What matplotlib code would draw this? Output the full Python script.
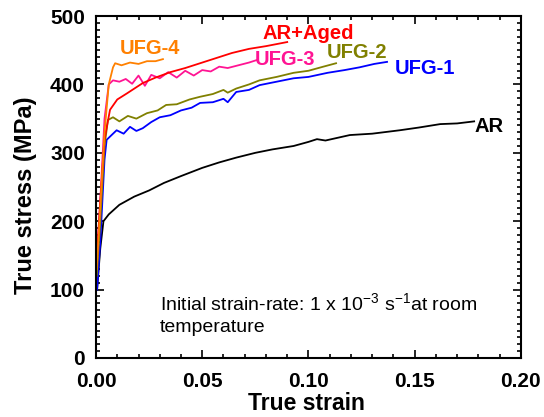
import matplotlib
matplotlib.use("Agg")
import matplotlib.pyplot as plt
from matplotlib.ticker import MultipleLocator

plt.rcParams['font.family'] = ['Liberation Sans', 'DejaVu Sans']
plt.rcParams['mathtext.fontset'] = 'custom'
plt.rcParams['mathtext.rm'] = 'Liberation Sans'
plt.rcParams['mathtext.it'] = 'Liberation Sans:italic'
plt.rcParams['mathtext.bf'] = 'Liberation Sans:bold'

# curves (true strain, true stress in MPa)
ar_strain = [0.0005, 0.002, 0.0035, 0.006, 0.011, 0.018, 0.025, 0.032, 0.040, 0.050,
             0.058, 0.066, 0.075, 0.083, 0.093, 0.100, 0.104, 0.108, 0.1195, 0.130,
             0.143, 0.152, 0.162, 0.170, 0.178]
ar_stress = [100, 160, 200, 210, 224, 236, 245, 256, 266, 278,
             286, 293, 300, 305, 310, 316, 320, 318, 326, 328,
             333, 337, 342, 343, 346]

ufg1_strain = [0.0005, 0.002, 0.004, 0.005, 0.007, 0.0097, 0.013, 0.016, 0.019, 0.022,
               0.026, 0.030, 0.035, 0.040, 0.045, 0.049, 0.055, 0.060, 0.062, 0.066,
               0.072, 0.077, 0.085, 0.093, 0.100, 0.109, 0.117, 0.124, 0.131, 0.137]
ufg1_stress = [100, 170, 290, 319, 325, 333, 328, 338, 332, 336,
               345, 352, 355, 362, 366, 373, 374, 379, 374, 389,
               392, 399, 404, 409, 411, 417, 421, 425, 430, 433]

ufg2_strain = [0.0003, 0.002, 0.004, 0.0056, 0.008, 0.011, 0.015, 0.019, 0.024, 0.029,
               0.033, 0.038, 0.044, 0.049, 0.055, 0.060, 0.062, 0.066, 0.072, 0.077,
               0.085, 0.093, 0.100, 0.107, 0.113]
ufg2_stress = [120, 200, 310, 348, 352, 346, 354, 350, 358, 362,
               370, 371, 378, 382, 386, 392, 388, 394, 400, 406,
               411, 417, 420, 426, 431]

ufg3_strain = [0.0003, 0.002, 0.004, 0.006, 0.008, 0.011, 0.014, 0.017, 0.020, 0.023,
               0.026, 0.030, 0.034, 0.038, 0.042, 0.046, 0.050, 0.054, 0.058, 0.062,
               0.067, 0.072, 0.076]
ufg3_stress = [140, 230, 350, 400, 406, 404, 408, 401, 413, 398,
               414, 409, 418, 410, 420, 413, 421, 419, 426, 424,
               428, 432, 436]

aged_strain = [0.0005, 0.002, 0.004, 0.0055, 0.0066, 0.010, 0.0146, 0.022, 0.028, 0.035,
               0.042, 0.049, 0.056, 0.064, 0.072, 0.080, 0.090]
aged_stress = [150, 230, 320, 345, 363, 378, 387, 402, 410, 418,
               424, 431, 438, 446, 452, 456, 462]

ufg4_strain = [0.0003, 0.002, 0.004, 0.006, 0.008, 0.009, 0.012, 0.016, 0.020, 0.024,
               0.028, 0.0315]
ufg4_stress = [130, 220, 330, 400, 425, 431, 428, 432, 430, 434,
               434, 437]

curves = [
    ('AR', ar_strain, ar_stress, 'black', (0.185, 338)),
    ('UFG-1', ufg1_strain, ufg1_stress, '#0000ff', (0.155, 424)),
    ('UFG-2', ufg2_strain, ufg2_stress, '#808000', (0.123, 447)),
    ('UFG-3', ufg3_strain, ufg3_stress, '#ff1493', (0.089, 436)),
    ('AR+Aged', aged_strain, aged_stress, '#ff0000', (0.0998, 475)),
    ('UFG-4', ufg4_strain, ufg4_stress, '#ff8000', (0.0254, 453)),
]

fig = plt.figure(figsize=(5.44, 4.17), dpi=100)
ax = fig.add_axes([0.1765, 0.1415, 0.781, 0.82])

for name, x, y, color, pos in curves:
    ax.plot(x, y, color=color, linewidth=1.3)
    ax.text(pos[0], pos[1], name, color=color, fontsize=14.5, fontweight='bold',
            ha='center', va='center')

ax.text(0.030, 80, 'Initial strain-rate: 1 x 10$^{-3}$ s$^{-1}$at room',
        fontsize=14, ha='left', va='center')
ax.text(0.030, 44, 'temperature', fontsize=14, ha='left', va='center')

ax.set_xlim(0, 0.20)
ax.set_ylim(0, 500)
ax.xaxis.set_major_locator(MultipleLocator(0.05))
ax.xaxis.set_minor_locator(MultipleLocator(0.01))
ax.yaxis.set_major_locator(MultipleLocator(100))
ax.yaxis.set_minor_locator(MultipleLocator(10))
ax.xaxis.set_major_formatter(plt.FuncFormatter(lambda v, p: f'{v:.2f}'))

ax.tick_params(which='both', direction='in', top=True, right=True, width=1.2)
ax.tick_params(which='major', length=6, labelsize=15)
ax.tick_params(which='minor', length=3)
ax.tick_params(axis='x', which='major', pad=10)
ax.tick_params(axis='y', which='major', pad=8)
for lab in ax.get_xticklabels() + ax.get_yticklabels():
    lab.set_fontweight('bold')
for sp in ax.spines.values():
    sp.set_linewidth(1.5)

ax.set_xlabel('True strain', fontsize=16.5, fontweight='bold')
ax.set_ylabel('True stress (MPa)', fontsize=17, fontweight='bold')
ax.xaxis.set_label_coords(0.496, -0.100)
ax.yaxis.set_label_coords(-0.14, 0.477)

fig.savefig('out.png', dpi=100)
